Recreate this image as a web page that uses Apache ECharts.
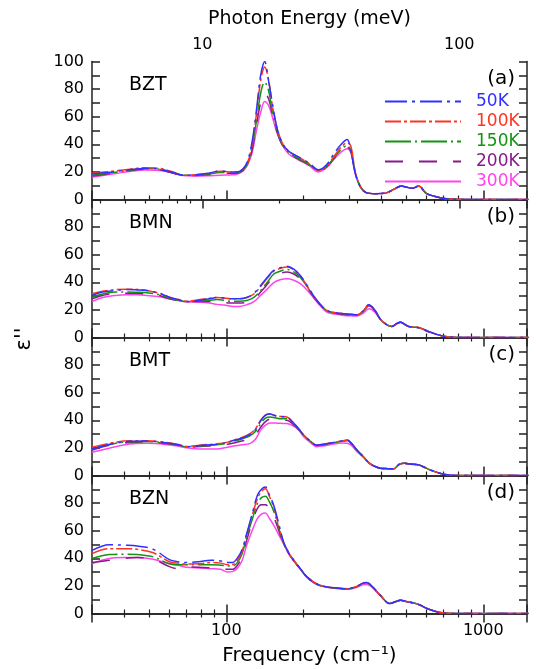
<!DOCTYPE html>
<html>
<head>
<meta charset="utf-8">
<title>epsilon'' spectra</title>
<script src="https://cdn.jsdelivr.net/npm/echarts@6.0.0/dist/echarts.min.js"></script>
<style>
  html, body { margin: 0; padding: 0; background: #fff; }
  #chart { width: 536px; height: 669px; }
</style>
</head>
<body>
<div id="chart"></div>
<script>
  // 温度 / 样品
  const temps = ['50K', '100K', '150K', '200K', '300K']
  const samples = ['BZT', 'BMN', 'BMT', 'BZN']
  const panelTags = ['(a)', '(b)', '(c)', '(d)']

  // (a) BZT
  const freqBZT = [30, 36, 42, 48, 55, 62, 68, 76, 85, 95, 103, 110, 116, 121, 126, 131, 136, 141, 146, 151, 157, 165, 175, 190, 210, 228, 245, 262, 280, 295, 305, 318, 333, 350, 380, 420, 450, 480, 505, 530, 560, 600, 650, 720, 850, 1500]
  const bzt50 = [18.5, 20, 21.5, 22.5, 22, 19.5, 17.6, 18, 19, 20.8, 20, 20, 22, 28, 42, 65, 90, 100, 86, 70, 53, 41, 35, 31, 26.5, 21.5, 25, 33, 40, 43.5, 36, 18.5, 9, 5, 4.2, 4.8, 7.5, 9.7, 8.8, 8.2, 9.7, 4.5, 2.2, 0.6, 0, 0]
  const bzt100 = [19, 20.5, 22, 23, 22.5, 20, 17.6, 18, 19, 20.5, 20, 20, 22, 27, 40, 62, 86, 96, 87, 68, 53, 41, 35, 31, 26, 21, 24, 31, 38, 41, 39, 19.5, 9.2, 5, 4.2, 4.8, 7.5, 9.7, 8.8, 8.2, 9.7, 4.5, 2.2, 0.6, 0, 0]
  const bzt150 = [17.5, 19.5, 21, 22.5, 22, 19.5, 17.5, 17.5, 18.5, 19.5, 19.5, 19.5, 21.5, 26, 38, 57, 77, 85, 79, 64, 51, 40, 34, 30, 25.5, 21, 24, 30, 36.5, 39, 36, 19, 9, 5, 4.2, 4.8, 7.5, 9.7, 8.8, 8.2, 9.7, 4.5, 2.2, 0.6, 0, 0]
  const bzt200 = [17, 19, 21, 22, 21.5, 19, 17.4, 17.4, 18, 19, 19, 19, 21, 25.5, 36, 54, 70, 77, 73, 62, 50, 39.5, 33.5, 29.5, 25, 20.5, 23.5, 29.5, 35.5, 38, 35, 18.8, 9, 5, 4.2, 4.8, 7.5, 9.7, 8.8, 8.2, 9.7, 4.5, 2.2, 0.6, 0, 0]
  const bzt300 = [16.2, 18.5, 20.2, 21.3, 21, 19.2, 17.3, 17, 17.2, 17.6, 17.8, 18.3, 20.5, 25, 34, 50, 63, 71, 68, 60, 49, 39.5, 33, 29, 24.5, 20, 23, 29, 34.5, 36.8, 34, 18.5, 9, 5, 4.2, 4.8, 7.5, 9.7, 8.8, 8.2, 9.7, 4.5, 2.2, 0.6, 0, 0]

  // (b) BMN
  const freqBMN = [30, 33, 37, 41, 45, 49, 55, 60, 65, 70, 79, 86, 92, 98, 104, 112, 120, 128, 136, 145, 153, 162, 172, 183, 194, 206, 218, 232, 246, 265, 286, 305, 322, 340, 359, 378, 397, 420, 441, 460, 476, 495, 512, 540, 569, 621, 700, 813, 1500]
  const bmn50 = [30.5, 33, 34, 34.8, 34.5, 34, 32, 29.2, 27.5, 26, 27, 28, 29, 28.7, 28, 28, 29, 32, 37.7, 44, 48.6, 50.5, 51.7, 49.5, 45, 38, 30.5, 24, 19.6, 18, 17.2, 16.8, 16.4, 19, 23.7, 20, 13.5, 9.5, 8, 10, 11.1, 9.5, 8, 7.5, 6.8, 3.9, 1, 0, 0]
  const bmn100 = [31.7, 33.5, 34.8, 35, 34.8, 34, 32, 29.2, 27.5, 26.2, 27.5, 28.5, 29, 28.7, 28, 28, 29, 31.5, 37, 43.5, 48, 50, 51, 49, 44.5, 37.5, 30.3, 24, 19.6, 18, 17.2, 16.8, 16.4, 19, 23.7, 20, 13.5, 9.5, 8, 10, 11.1, 9.5, 8, 7.5, 6.8, 3.9, 1, 0, 0]
  const bmn150 = [29, 31.5, 33, 33, 32.8, 32.5, 31, 28.5, 27, 26, 26.5, 27, 27.5, 27, 26.3, 26.3, 26.8, 29, 34, 40.5, 46, 48, 49.3, 47.5, 43.5, 37, 30, 23.8, 19.4, 17.8, 17, 16.6, 16.2, 18.8, 23.5, 19.8, 13.4, 9.4, 8, 10, 11, 9.4, 8, 7.5, 6.8, 3.9, 1, 0, 0]
  const bmn200 = [28, 30.5, 32, 32, 32, 31.5, 30.5, 28, 26.8, 26, 26, 26, 25.6, 25.3, 25, 25, 25.5, 27.5, 32.9, 39, 44.5, 46.5, 47.4, 46, 42.5, 36.5, 29.8, 23.6, 19.2, 17.6, 16.8, 16.4, 16, 18.5, 23, 19.6, 13.3, 9.3, 8, 10, 11, 9.4, 8, 7.5, 6.8, 3.9, 1, 0, 0]
  const bmn300 = [26, 29, 30.5, 31, 31, 30.5, 29.5, 28, 26.8, 25.8, 25.6, 25, 24, 23.5, 22.7, 22.5, 23.7, 26, 30.5, 35.5, 39.8, 41.8, 42.5, 41.5, 39, 34.5, 29, 23, 18.4, 17, 16, 15.7, 15.5, 17.5, 20.8, 18.5, 13, 9.3, 8, 10, 11, 9.4, 8, 7.5, 6.8, 3.9, 1, 0, 0]

  // (c) BMT
  const freqBMT = [30, 35, 42, 49, 58, 65, 70, 79, 92, 100, 107, 115, 124, 130, 136, 142, 148, 155, 163, 172, 182, 191, 200, 212, 225, 243, 262, 280, 295, 308, 322, 340, 360, 380, 397, 420, 448, 470, 493, 520, 560, 590, 621, 700, 813, 1500]
  const bmt50 = [19.2, 22.5, 24.8, 25, 23.8, 22.3, 20.9, 21.7, 22.7, 23.8, 25.5, 27, 30, 33.5, 39.5, 43.5, 44.5, 43.3, 42.6, 42.2, 38.4, 34, 29.3, 25, 22, 22.8, 24, 25, 25.7, 23, 18.5, 14, 9, 6.5, 5.3, 5, 4.8, 8, 8.9, 8.3, 7.7, 6, 4.1, 1, 0, 0]
  const bmt100 = [20.4, 23.3, 25.2, 25.2, 24, 22.5, 21, 22, 23, 24, 25.7, 27.5, 30.5, 34, 40, 44, 44.8, 43.5, 42.8, 42.4, 38.4, 34, 29.3, 25, 22, 22.8, 24, 25, 25.7, 23, 18.5, 14, 9, 6.5, 5.3, 5, 4.8, 8, 8.9, 8.3, 7.7, 6, 4.1, 1, 0, 0]
  const bmt150 = [19.2, 22.5, 24.5, 24.7, 23.5, 22, 20.8, 21.3, 22.3, 23.3, 24.8, 26.5, 29, 32, 37.5, 41.5, 42.4, 41.8, 41.2, 41.2, 37.8, 33.7, 29.2, 25, 22, 22.7, 23.8, 24.8, 25.5, 23, 18.5, 14, 9, 6.5, 5.3, 5, 4.8, 8, 8.9, 8.3, 7.7, 6, 4.1, 1, 0, 0]
  const bmt200 = [18.5, 22, 24, 24.2, 23.2, 21.8, 20.6, 21, 21.8, 22.5, 23.6, 25, 26.4, 29.5, 35, 39, 40.8, 40.5, 40, 40, 37, 33.3, 29, 24.8, 21.8, 22.5, 23.6, 24.6, 25.3, 22.8, 18.5, 14, 9, 6.5, 5.3, 5, 4.8, 8, 8.9, 8.3, 7.7, 6, 4.1, 1, 0, 0]
  const bmt300 = [16.8, 19.7, 22.8, 23.3, 22.5, 21.2, 20.1, 19.2, 19.2, 20.3, 21.3, 22.2, 23.3, 26.5, 32.9, 36.5, 38.1, 38, 37.8, 37.6, 36, 33, 28, 24, 20.9, 21.6, 22.8, 23.5, 23.3, 21.5, 17.5, 13.5, 8.8, 6.3, 5.2, 4.9, 4.7, 7.8, 8.8, 8.2, 7.6, 6, 4.1, 1, 0, 0]

  // (d) BZN
  const freqBZN = [30, 35, 40, 45, 52, 60, 65, 70, 78, 87, 95, 101, 106, 110, 115, 120, 126, 132, 137, 142, 147, 153, 160, 167, 175, 183, 195, 206, 225, 246, 270, 295, 320, 340, 352, 370, 397, 433, 455, 476, 505, 534, 570, 604, 681, 800, 1500]
  const bzn50 = [45.8, 49.9, 49.5, 48.9, 46.5, 39, 37.5, 37, 37.5, 38.6, 38, 37, 37, 39.8, 46, 57.8, 72, 85.5, 90, 91.6, 86, 78.3, 65, 51.8, 44, 38.6, 32, 26.5, 21.5, 19.3, 18.5, 18, 19.5, 22, 22.4, 19.5, 13.3, 7.2, 8.5, 9.6, 8.5, 7.7, 6, 3.6, 0.7, 0, 0]
  const bzn100 = [43.4, 47, 47, 46.5, 44, 37.5, 36.5, 35.9, 36, 36.9, 36.5, 35.4, 35.5, 38, 45, 57, 71, 83, 88.5, 90.4, 85, 77, 63.5, 51.5, 44, 38.6, 32, 26.5, 21.5, 19.3, 18.5, 18, 19.5, 22, 22.4, 19.5, 13.3, 7.2, 8.5, 9.6, 8.5, 7.7, 6, 3.6, 0.7, 0, 0]
  const bzn150 = [39.8, 42.7, 43, 42.7, 41, 36, 35.4, 35.4, 35.4, 35.4, 35, 34.5, 34.5, 36.5, 43, 55.4, 68, 79.5, 84, 85, 81, 74, 62, 51, 43.5, 38.5, 31.8, 26.3, 21.3, 19.2, 18.4, 17.9, 19.3, 21.8, 22.2, 19.4, 13.3, 7.2, 8.5, 9.6, 8.5, 7.7, 6, 3.6, 0.7, 0, 0]
  const bzn200 = [36.9, 38.6, 40, 40.5, 39.3, 34, 32.5, 33.7, 33.5, 33, 32.5, 32, 32, 34.5, 41, 53, 66, 76, 78.8, 78.8, 76, 70, 60, 50.5, 43.5, 38.3, 31.7, 26.2, 21.2, 19.1, 18.3, 17.8, 19.2, 21.6, 22, 19.3, 13.2, 7.2, 8.5, 9.6, 8.5, 7.7, 6, 3.6, 0.7, 0, 0]
  const bzn300 = [36.1, 39.8, 40.5, 40.5, 39.3, 36, 34.9, 33.5, 33, 32.5, 32, 30.1, 30.5, 32.5, 38, 49.4, 60, 68.7, 72, 72.8, 69, 63.9, 57, 50.6, 43, 38, 31.5, 26, 21, 19, 18, 17.5, 18.8, 20.8, 21, 19, 13, 7.2, 8.5, 9.6, 8.5, 7.7, 6, 3.6, 0.7, 0, 0]

  const freqs = [freqBZT, freqBMN, freqBMT, freqBZN]
  const values = [
    [bzt50, bzt100, bzt150, bzt200, bzt300],
    [bmn50, bmn100, bmn150, bmn200, bmn300],
    [bmt50, bmt100, bmt150, bmt200, bmt300],
    [bzn50, bzn100, bzn150, bzn200, bzn300]
  ]

  const colors = ['#3030ff', '#ff3322', '#129412', '#8a1a8a', '#ff44ee']
  const dashes = [[22, 5, 3, 5], [16, 3, 3, 3], [26, 4, 2, 4], [18, 16], 'solid']

  const FONT = 'DejaVu Sans'
  const CM_PER_MEV = 8.0655
  const fMin = 30
  const fMax = 1480
  const gridTops = [61.5, 199.5, 337.5, 475.5]
  const gridH = 138
  const frameColor = '#222'

  let grids = []
  let xAxes = []
  let yAxes = []
  let series = []
  let titles = []

  function xAxisBase(i, pos) {
    return {
      gridIndex: i,
      type: 'log',
      logBase: 10,
      min: fMin,
      max: fMax,
      position: pos,
      axisLine: { show: true, lineStyle: { color: frameColor, width: 1.5 } },
      axisTick: { show: true, inside: true, length: 9, lineStyle: { color: frameColor, width: 1.5 } },
      minorTick: { show: true, splitNumber: 9, length: 4, lineStyle: { color: frameColor, width: 1.2 } },
      axisLabel: { show: false },
      splitLine: { show: false },
      minorSplitLine: { show: false }
    }
  }

  function yAxisBase(i, pos) {
    return {
      gridIndex: i,
      type: 'value',
      min: 0,
      max: 100,
      interval: 20,
      position: pos,
      axisLine: { show: true, lineStyle: { color: frameColor, width: 1.5 } },
      axisTick: { show: true, inside: true, length: 8, lineStyle: { color: frameColor, width: 1.5 } },
      minorTick: { show: true, splitNumber: 2, length: 8, lineStyle: { color: frameColor, width: 1.5 } },
      axisLabel: { show: false },
      splitLine: { show: false }
    }
  }

  for (let i = 0; i < 4; i++) {
    grids.push({ left: 92, right: 9, top: gridTops[i], height: gridH })

    // 底部频率轴
    let xb = xAxisBase(i, 'bottom')
    if (i === 3) {
      xb.axisLabel = {
        show: true, margin: 9, showMinLabel: false, showMaxLabel: false,
        color: '#000', fontFamily: FONT, fontSize: 16,
        formatter: (v) => String(Math.round(v))
      }
      xb.name = 'Frequency (cm\u207B\u00B9)'
      xb.nameLocation = 'middle'
      xb.nameGap = 32
      xb.nameTextStyle = { color: '#000', fontFamily: FONT, fontSize: 20 }
    }
    xAxes.push(xb)

    // 顶部：(a) 为光子能量轴，其余为频率轴
    let xt = xAxisBase(i, 'top')
    if (i === 0) {
      xt.min = fMin / CM_PER_MEV
      xt.max = fMax / CM_PER_MEV
      xt.axisLabel = {
        show: true, margin: 9, showMinLabel: false, showMaxLabel: false,
        color: '#000', fontFamily: FONT, fontSize: 16,
        formatter: (v) => String(Math.round(v))
      }
      xt.name = 'Photon Energy (meV)'
      xt.nameLocation = 'middle'
      xt.nameGap = 33
      xt.nameTextStyle = { color: '#000', fontFamily: FONT, fontSize: 19 }
    }
    xAxes.push(xt)

    let yl = yAxisBase(i, 'left')
    yl.axisLabel = {
      show: true, margin: 8, color: '#000', fontFamily: FONT, fontSize: 16,
      formatter: (v) => (i > 0 && v === 100 ? '' : String(v))
    }
    yAxes.push(yl)
    yAxes.push(yAxisBase(i, 'right'))

    titles.push({
      text: samples[i], left: 124, top: gridTops[i] + 9,
      textStyle: { color: '#000', fontFamily: FONT, fontSize: 19, fontWeight: 'normal' }
    })
    titles.push({
      text: panelTags[i], right: 16, top: gridTops[i] + 2,
      textStyle: { color: '#000', fontFamily: FONT, fontSize: 20, fontWeight: 'normal' }
    })

    for (let t = 0; t < temps.length; t++) {
      let data = freqs[i].map((f, k) => [f, values[i][t][k]])
      series.push({
        name: temps[t],
        type: 'line',
        xAxisIndex: i * 2,
        yAxisIndex: i * 2,
        data: data,
        symbol: 'none',
        smooth: 0.35,
        z: 10 - t,
        lineStyle: { color: colors[t], width: 1.5, type: dashes[t] },
        itemStyle: { color: colors[t] },
        animation: false
      })
    }
  }

  let chart = echarts.init(document.getElementById('chart'))
  let option = {
    backgroundColor: '#fff',
    animation: false,
    title: titles,
    grid: grids,
    xAxis: xAxes,
    yAxis: yAxes,
    legend: {
      orient: 'vertical',
      left: 379,
      top: 88,
      itemWidth: 76,
      itemHeight: 12,
      itemGap: 3,
      selectedMode: false,
      itemStyle: { opacity: 0 },
      data: temps.map((name, t) => ({
        name: name,
        textStyle: { color: colors[t] }
      })),
      textStyle: { fontFamily: FONT, fontSize: 17, lineHeight: 14, padding: [0, 0, 0, 10] }
    },
    graphic: [{
      type: 'text',
      x: 25,
      y: 339,
      rotation: Math.PI / 2,
      style: {
        text: "\u03B5''",
        fill: '#000',
        font: '21px "DejaVu Sans"',
        textAlign: 'center',
        textVerticalAlign: 'middle'
      }
    }],
    series: series
  }
  chart.setOption(option)
</script>
</body>
</html>
